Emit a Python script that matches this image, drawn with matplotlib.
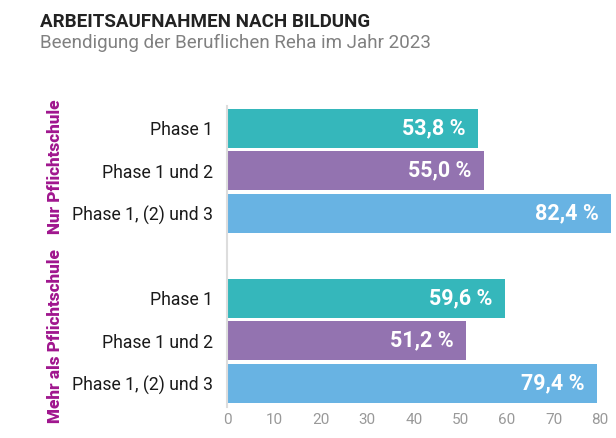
import matplotlib
matplotlib.use("Agg")
import matplotlib.pyplot as plt
import matplotlib.transforms as mtransforms
import numpy as np

# ---- data ----
groups = ["Nur Pflichtschule", "Mehr als Pflichtschule"]
categories = ["Phase 1", "Phase 1 und 2", "Phase 1, (2) und 3"]
values_nur = [53.8, 55.0, 82.4]
values_mehr = [59.6, 51.2, 79.4]
xticks = [0, 10, 20, 30, 40, 50, 60, 70, 80]

title = "ARBEITSAUFNAHMEN NACH BILDUNG"
subtitle = "Beendigung der Beruflichen Reha im Jahr 2023"

# ---- style ----
colors = ["#35B7BB", "#9373B0", "#68B3E3"]
group_color = "#A0168E"
FONT = ["Roboto", "DejaVu Sans"]
plt.rcParams["font.family"] = FONT

W, H = 616, 438
fig = plt.figure(figsize=(W / 100, H / 100), dpi=100)

left_px, right_px = 227.3, 616
top_px, bottom_px = 106, 407
ax = fig.add_axes([left_px / W, 1 - bottom_px / H,
                   (right_px - left_px) / W, (bottom_px - top_px) / H])

# positions: group 1 at 0..2, gap, group 2 at 4..6
pos1 = np.arange(len(categories))
pos2 = pos1 + len(categories) + 1
all_pos = np.concatenate([pos1, pos2])
all_vals = values_nur + values_mehr
all_cols = colors * 2
all_labels = categories * 2

ax.barh(all_pos, all_vals, height=0.92, color=all_cols, edgecolor="none")

for p, v in zip(all_pos, all_vals):
    ax.annotate(f"{v:.1f} %".replace(".", ","), xy=(v, p), xytext=(-9, 0),
                textcoords="offset points", ha="right", va="center",
                color="white", fontsize=15.5, fontweight="bold")

ax.set_xlim(0, (right_px - left_px) / 4.66)
ax.set_ylim(6.56, -0.525)
ax.set_yticks(all_pos)
ax.set_yticklabels(all_labels, fontsize=12.7, color="#1a1a1a")
ax.set_xticks(xticks)
ax.set_xticklabels([str(t) for t in xticks], fontsize=11, color="#999999")
ax.tick_params(axis="y", length=0, pad=10)
ax.tick_params(axis="x", length=0, pad=4)

for s in ["top", "right", "bottom"]:
    ax.spines[s].set_visible(False)
ax.spines["left"].set_color("#dddddd")
ax.spines["left"].set_linewidth(1.5)

# group labels
trans = mtransforms.blended_transform_factory(fig.transFigure, ax.transData)
for g, pos in zip(groups, [pos1, pos2]):
    fig.text(55 / W, pos.mean() - 0.1, g, rotation=90, ha="center", va="center",
             color=group_color, fontsize=12.3, fontweight="black", transform=trans)

fig.text(40 / W, 1 - 27 / H, title, ha="left", va="baseline",
         fontsize=13.5, fontweight="bold", color="#222222")
fig.text(40 / W, 1 - 48 / H, subtitle, ha="left", va="baseline",
         fontsize=13.5, fontweight="normal", color="#808080")

fig.savefig("out.png", dpi=100)
